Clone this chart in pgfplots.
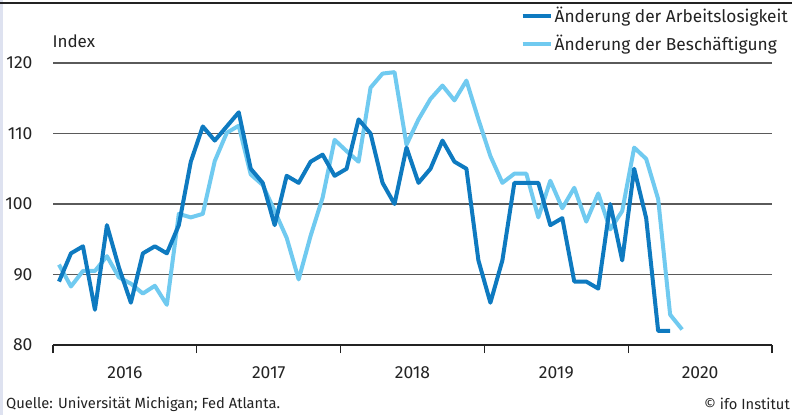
\documentclass[border=0pt]{standalone}
\usepackage{pgfplots}
\pgfplotsset{compat=1.18}
\usepackage{pgfplotstable}
\usepackage{fontspec}
\setmainfont{Fira Sans}
\definecolor{darkb}{RGB}{14,122,192}
\definecolor{lightb}{RGB}{112,202,240}
\definecolor{gridc}{RGB}{90,90,90}
\definecolor{strip}{RGB}{222,226,240}
\definecolor{txt}{RGB}{35,35,35}

\pgfplotstableread{
x y
0.5 89
1.5 93
2.5 94
3.5 85
4.5 97
5.5 91
6.5 86
7.5 93
8.5 94
9.5 93
10.5 97
11.5 106
12.5 111
13.5 109
14.5 111
15.5 113
16.5 105
17.5 103
18.5 97
19.5 104
20.5 103
21.5 106
22.5 107
23.5 104
24.5 105
25.5 112
26.5 110
27.5 103
28.5 100
29.5 108
30.5 103
31.5 105
32.5 109
33.5 106
34.5 105
35.5 92
36.5 86
37.5 92
38.5 103
39.5 103
40.5 103
41.5 97
42.5 98
43.5 89
44.5 89
45.5 88
46.5 100
47.5 92
48.5 105
49.5 98
50.5 82
51.5 82
}\arbeit

\pgfplotstableread{
x y
0.5 91.4
1.5 88.3
2.5 90.5
3.5 90.5
4.5 92.6
5.5 89.6
6.5 88.7
7.5 87.3
8.5 88.4
9.5 85.7
10.5 98.6
11.5 98.1
12.5 98.6
13.5 106.1
14.5 110.1
15.5 111.1
16.5 104.2
17.5 102.7
18.5 99.0
19.5 95.2
20.5 89.3
21.5 95.5
22.5 100.9
23.5 109.1
24.5 107.5
25.5 106.0
26.5 116.5
27.5 118.5
28.5 118.7
29.5 108.4
30.5 112.0
31.5 114.9
32.5 116.8
33.5 114.7
34.5 117.5
35.5 112.0
36.5 106.8
37.5 103.0
38.5 104.3
39.5 104.3
40.5 98.1
41.5 103.3
42.5 99.4
43.5 102.3
44.5 97.5
45.5 101.5
46.5 96.4
47.5 99.0
48.5 108.0
49.5 106.4
50.5 100.7
51.5 84.3
52.5 82.2
}\besch

\begin{document}
\begin{tikzpicture}[x=1pt,y=1pt]
\useasboundingbox (0,0) rectangle (792,415);
\fill[white] (0,0) rectangle (792,415);
\fill[strip] (0,0) rectangle (3,415);
\draw[line width=2pt, txt] (0,412) -- (792,412);
\begin{axis}[
  at={(53pt,70pt)}, anchor=south west,
  scale only axis, width=719pt, height=282pt,
  xmin=0, xmax=60, ymin=80, ymax=120,
  axis x line*=bottom, axis y line*=left,
  y axis line style={draw=none},
  x axis line style={line width=1.3pt, txt},
  xtick={6,18,30,42,54},
  xticklabels={2016,2017,2018,2019,2020},
  minor xtick={0,12,24,36,48,60},
  major tick length=0pt,
  minor tick length=8pt,
  tick align=outside,
  minor tick style={line width=1.3pt, txt},
  ytick={80,90,100,110,120},
  ytick style={draw=none},
  ymajorgrids,
  grid style={line width=1.2pt, gridc},
  tick label style={font=\fontsize{17.5}{19}\selectfont, text=txt},
  /pgf/number format/assume math mode=true,
  xticklabel style={yshift=-18pt},
  yticklabel style={xshift=-17pt},
  legend style={at={(1.025,1.205)}, anchor=north east, draw=none, fill=none,
    font=\fontsize{17.3}{19}\selectfont, text=txt, row sep=7pt, inner sep=0pt,
    cells={anchor=west}},
  legend image code/.code={\draw[#1, line width=4pt] (0pt,0pt) -- (28pt,0pt);},
  reverse legend,
  clip=false,
]
\addplot[lightb, line width=4pt, line join=round] table[x=x,y=y]{\besch};
\addlegendentry{Änderung der Beschäftigung}
\addplot[darkb, line width=4pt, line join=round] table[x=x,y=y]{\arbeit};
\addlegendentry{Änderung der Arbeitslosigkeit}
\end{axis}
\node[anchor=west, text=txt, font=\fontsize{17}{19}\selectfont] at (49,374) {Index};
\node[anchor=west, text=txt, font=\fontsize{14.7}{16}\selectfont, inner sep=0pt] at (6,11) {Quelle: Universität Michigan; Fed Atlanta.};
\node[anchor=east, text=txt, font=\fontsize{14.7}{16}\selectfont, inner sep=0pt] at (790,11) {© ifo Institut};
\end{tikzpicture}
\end{document}
